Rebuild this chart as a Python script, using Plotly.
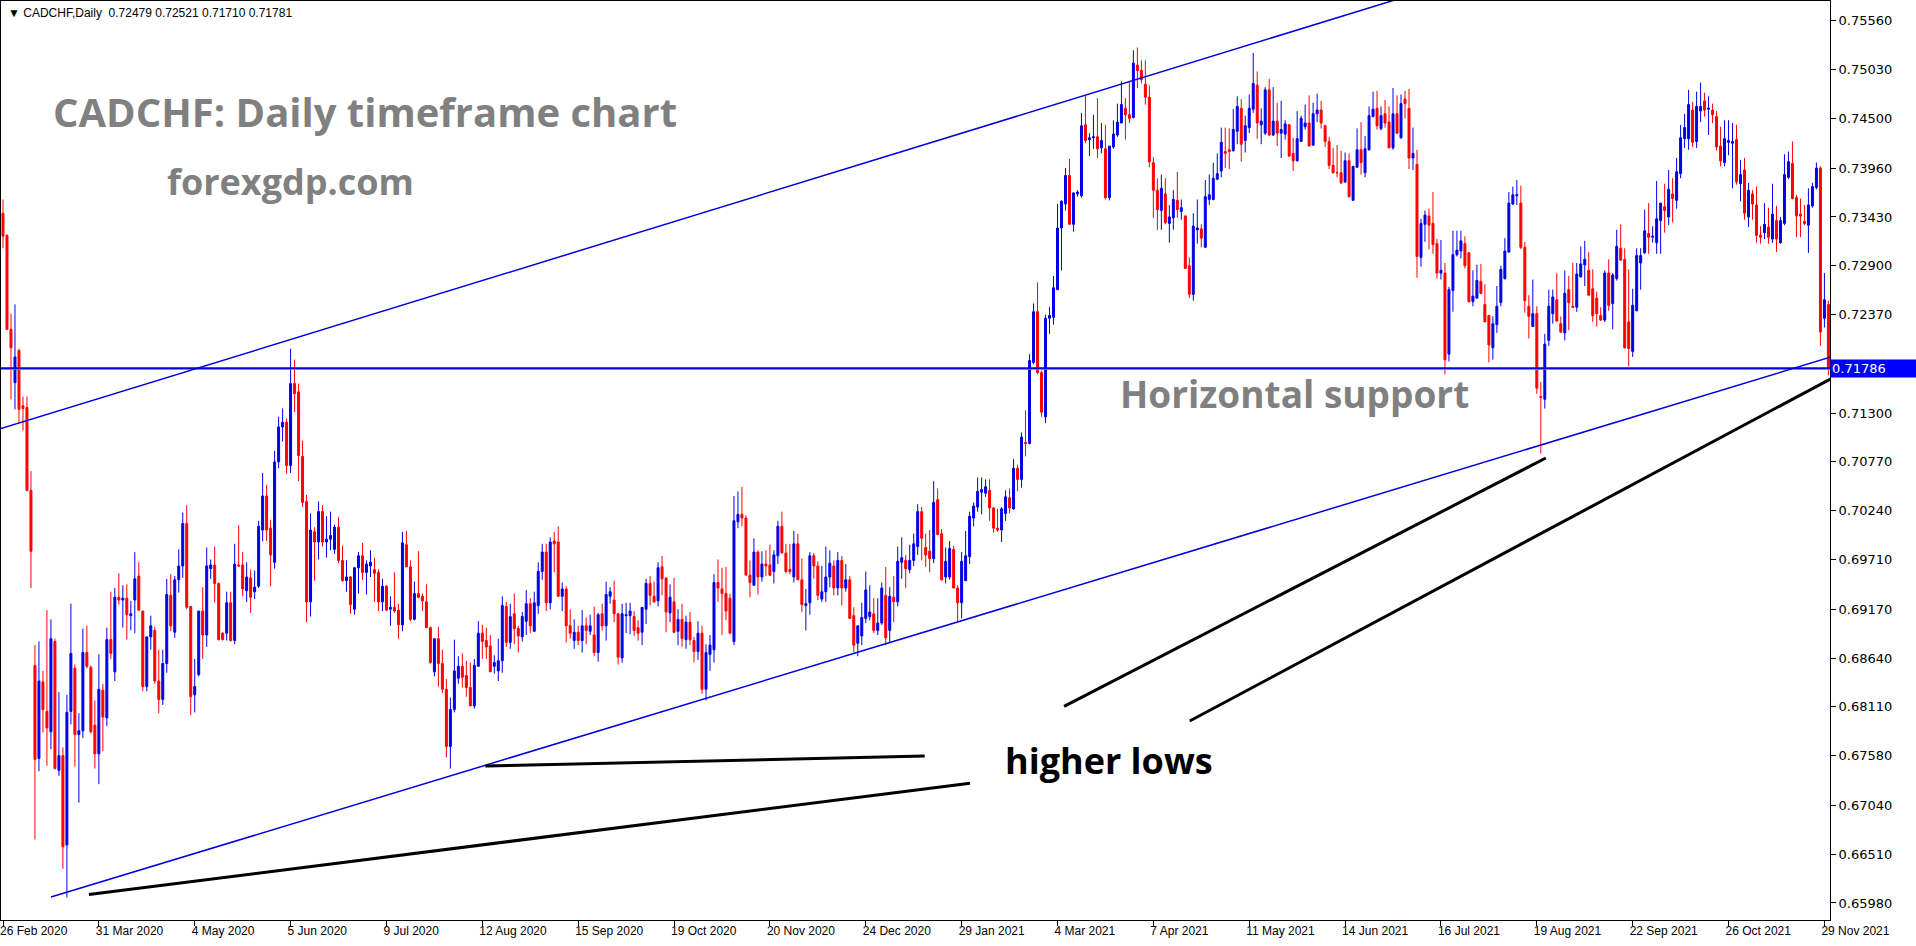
import plotly.graph_objects as go

# ---- daily candles, prices in units of 0.0001 ----
OPEN = [
    7347, 7323, 7221, 7163, 7198, 7138, 7136, 7046, 6856, 6755,
    6838, 6806, 6784, 6882, 6742, 6758, 6661, 6806, 6853, 6781,
    6785, 6870, 6854, 6791, 6760, 6829, 6799, 6884, 6849, 6930,
    6927, 6929, 6910, 6927, 6953, 6915, 6833, 6887, 6894, 6839,
    6819, 6858, 6932, 6892, 6949, 6964, 7010, 6920, 6824, 6846,
    6915, 6889, 6961, 6965, 6945, 6891, 6891, 6924, 6883, 6965,
    6965, 6937, 6951, 6936, 6942, 7003, 7040, 7005, 6968, 7077,
    7115, 7120, 7073, 7162, 7153, 7083, 7034, 6925, 7001, 6990,
    7023, 6990, 6993, 6982, 7006, 6970, 6948, 6952, 6917, 6962,
    6975, 6957, 6964, 6960, 6957, 6925, 6942, 6917, 6919, 6916,
    6900, 6987, 6963, 6906, 6934, 6931, 6925, 6897, 6849, 6885,
    6858, 6830, 6768, 6808, 6842, 6855, 6845, 6832, 6812, 6855,
    6891, 6883, 6877, 6855, 6850, 6861, 6920, 6881, 6912, 6896,
    6887, 6904, 6923, 6893, 6921, 6958, 6979, 6924, 6991, 6990,
    6931, 6939, 6899, 6883, 6892, 6883, 6899, 6893, 6889, 6870,
    6912, 6899, 6931, 6927, 6912, 6864, 6910, 6910, 6909, 6897,
    6892, 6917, 6945, 6931, 6926, 6963, 6951, 6913, 6925, 6893,
    6906, 6884, 6903, 6883, 6871, 6891, 6830, 6868, 6873, 6946,
    6939, 6934, 6929, 6882, 7012, 7020, 7016, 6954, 6943, 6979,
    6952, 6966, 6965, 6958, 6975, 7007, 6978, 6960, 6952, 6988,
    6949, 6921, 6924, 6975, 6964, 6928, 6936, 6952, 6964, 6940,
    6970, 6940, 6949, 6910, 6880, 6888, 6907, 6909, 6912, 6894,
    6902, 6932, 6894, 6930, 6925, 6968, 6970, 6960, 6970, 6985,
    7023, 6984, 6980, 6972, 7036, 6999, 6952, 6952, 6982, 6940,
    6924, 6948, 6974, 7016, 7028, 7044, 7043, 7046, 7027, 7005,
    7003, 7021, 7038, 7026, 7070, 7058, 7098, 7097, 7185, 7240,
    7174, 7126, 7233, 7234, 7264, 7331, 7357, 7388, 7335, 7368,
    7366, 7443, 7427, 7429, 7430, 7418, 7417, 7364, 7419, 7432,
    7445, 7461, 7454, 7451, 7508, 7502, 7487, 7473, 7402, 7372,
    7350, 7368, 7336, 7342, 7361, 7349, 7344, 7290, 7259, 7329,
    7330, 7310, 7362, 7362, 7384, 7393, 7414, 7416, 7415, 7436,
    7461, 7426, 7440, 7460, 7486, 7443, 7434, 7481, 7432, 7447,
    7434, 7433, 7443, 7412, 7404, 7425, 7441, 7445, 7421, 7455,
    7459, 7442, 7425, 7399, 7391, 7391, 7381, 7404, 7361, 7397,
    7416, 7391, 7416, 7452, 7461, 7439, 7455, 7446, 7418, 7455,
    7429, 7471, 7461, 7407, 7400, 7299, 7335, 7344, 7336, 7314,
    7282, 7282, 7194, 7263, 7302, 7306, 7314, 7304, 7251, 7255,
    7273, 7248, 7236, 7201, 7226, 7250, 7276, 7305, 7357, 7366,
    7358, 7310, 7246, 7224, 7238, 7148, 7145, 7209, 7238, 7253,
    7227, 7217, 7264, 7246, 7245, 7278, 7291, 7285, 7265, 7255,
    7236, 7231, 7282, 7249, 7276, 7309, 7297, 7229, 7197, 7241,
    7293, 7304, 7325, 7321, 7315, 7339, 7354, 7343, 7368, 7361,
    7390, 7428, 7428, 7459, 7425, 7458, 7469, 7460, 7459, 7452,
    7420, 7402, 7424, 7423, 7427, 7379, 7394, 7343, 7368, 7356,
    7323, 7326, 7332, 7319, 7339, 7315, 7336, 7386, 7401, 7364,
    7346, 7338, 7334, 7355, 7375, 7396, 7233, 7247.9,
]
HIGH = [
    7362, 7324, 7238, 7248, 7200, 7148, 7148, 7067, 6878, 6882,
    6850, 6916, 6906, 6885, 6827, 6767, 6824, 6923, 6857, 6804,
    6896, 6899, 6856, 6818, 6868, 6836, 6897, 6936, 6940, 6956,
    6943, 6944, 6926, 6979, 6968, 6915, 6887, 6910, 6898, 6873,
    6873, 6950, 6955, 6953, 6982, 7022, 7030, 6920, 6863, 6915,
    6941, 6984, 6971, 6985, 6946, 6892, 6936, 6936, 6988, 7008,
    6979, 6968, 6960, 6959, 7013, 7065, 7052, 7014, 7089, 7126,
    7135, 7124, 7200, 7188, 7162, 7100, 7041, 7021, 7006, 7034,
    7030, 7018, 7023, 7009, 7017, 6986, 6970, 6953, 6963, 6979,
    6989, 6970, 6981, 6973, 6960, 6950, 6943, 6931, 6957, 6923,
    7001, 7002, 6970, 6947, 6980, 6934, 6944, 6898, 6885, 6898,
    6873, 6841, 6821, 6884, 6866, 6869, 6861, 6859, 6863, 6904,
    6900, 6897, 6889, 6867, 6885, 6931, 6925, 6923, 6934, 6899,
    6914, 6938, 6929, 6936, 6968, 6988, 6988, 6995, 7001, 7007,
    6946, 6942, 6917, 6906, 6899, 6916, 6908, 6911, 6920, 6913,
    6923, 6947, 6941, 6948, 6913, 6923, 6924, 6924, 6915, 6905,
    6919, 6950, 6953, 6947, 6968, 6975, 6951, 6944, 6951, 6917,
    6923, 6910, 6914, 6887, 6904, 6899, 6879, 6889, 6955, 6971,
    6962, 6963, 6934, 7040, 7045, 7050, 7019, 6970, 6994, 6981,
    6980, 6981, 6987, 6981, 7013, 7023, 6988, 6988, 7002, 6999,
    6972, 6939, 6979, 6978, 6969, 6964, 6985, 6981, 6970, 6979,
    6975, 6966, 6953, 6919, 6899, 6924, 6958, 6943, 6929, 6929,
    6946, 6963, 6941, 6953, 6985, 6995, 6976, 6987, 6999, 7031,
    7028, 6999, 7003, 7056, 7048, 7004, 6984, 6991, 6986, 6943,
    6979, 7002, 7023, 7033, 7060, 7060, 7058, 7058, 7028, 7026,
    7028, 7046, 7048, 7080, 7074, 7109, 7133, 7194, 7249, 7272,
    7176, 7237, 7245, 7279, 7357, 7361, 7396, 7406, 7370, 7372,
    7456, 7475, 7434, 7454, 7472, 7445, 7443, 7420, 7448, 7466,
    7490, 7472, 7490, 7524, 7527, 7513, 7513, 7486, 7408, 7385,
    7389, 7385, 7356, 7372, 7392, 7362, 7345, 7299, 7347, 7362,
    7335, 7383, 7389, 7402, 7412, 7440, 7440, 7439, 7460, 7474,
    7471, 7453, 7476, 7521, 7501, 7461, 7484, 7493, 7484, 7467,
    7469, 7448, 7444, 7429, 7458, 7453, 7465, 7475, 7467, 7477,
    7469, 7443, 7430, 7418, 7421, 7415, 7413, 7412, 7398, 7439,
    7446, 7431, 7463, 7479, 7480, 7463, 7470, 7463, 7483, 7475,
    7476, 7480, 7482, 7440, 7416, 7341, 7350, 7352, 7370, 7319,
    7318, 7293, 7267, 7328, 7328, 7328, 7322, 7305, 7285, 7291,
    7292, 7270, 7236, 7235, 7268, 7290, 7320, 7370, 7376, 7383,
    7377, 7316, 7258, 7275, 7246, 7164, 7216, 7264, 7264, 7282,
    7235, 7285, 7279, 7293, 7293, 7311, 7317, 7305, 7286, 7262,
    7245, 7285, 7297, 7282, 7329, 7335, 7309, 7286, 7265, 7309,
    7309, 7351, 7358, 7333, 7382, 7358, 7379, 7394, 7385, 7407,
    7443, 7455, 7481, 7468, 7479, 7489, 7478, 7474, 7466, 7458,
    7441, 7448, 7448, 7445, 7443, 7405, 7407, 7380, 7372, 7376,
    7333, 7358, 7353, 7379, 7355, 7343, 7411, 7414, 7425, 7367,
    7363, 7356, 7374, 7380, 7402, 7398, 7282, 7252.1,
]
LOW = [
    7309, 7220, 7145, 7134, 7119, 7111, 7045, 6940, 6667, 6741,
    6783, 6747, 6765, 6743, 6736, 6635, 6604, 6792, 6746, 6707,
    6777, 6853, 6782, 6744, 6727, 6763, 6790, 6863, 6839, 6922,
    6897, 6884, 6894, 6891, 6915, 6828, 6828, 6873, 6836, 6804,
    6813, 6848, 6893, 6886, 6935, 6951, 6917, 6802, 6805, 6844,
    6863, 6876, 6950, 6924, 6883, 6883, 6883, 6882, 6879, 6963,
    6931, 6925, 6913, 6928, 6940, 6991, 6991, 6942, 6961, 7070,
    7099, 7064, 7065, 7131, 7056, 7028, 6903, 6909, 6948, 6971,
    6985, 6973, 6981, 6977, 6967, 6947, 6936, 6912, 6911, 6934,
    6949, 6933, 6952, 6925, 6915, 6915, 6915, 6899, 6913, 6885,
    6893, 6963, 6904, 6905, 6929, 6915, 6897, 6858, 6844, 6833,
    6826, 6756, 6744, 6805, 6836, 6832, 6822, 6812, 6809, 6855,
    6863, 6863, 6849, 6847, 6839, 6848, 6876, 6874, 6879, 6870,
    6882, 6889, 6891, 6893, 6912, 6949, 6915, 6917, 6957, 6931,
    6915, 6881, 6885, 6874, 6878, 6870, 6879, 6889, 6866, 6860,
    6894, 6883, 6923, 6903, 6857, 6859, 6891, 6890, 6888, 6883,
    6878, 6901, 6921, 6924, 6920, 6932, 6892, 6903, 6891, 6878,
    6876, 6874, 6878, 6859, 6862, 6825, 6818, 6850, 6859, 6925,
    6889, 6905, 6890, 6878, 7005, 7007, 6954, 6930, 6943, 6933,
    6947, 6953, 6953, 6945, 6966, 6978, 6956, 6955, 6946, 6949,
    6914, 6894, 6911, 6950, 6927, 6925, 6925, 6941, 6932, 6932,
    6921, 6936, 6907, 6870, 6866, 6878, 6902, 6905, 6891, 6889,
    6900, 6878, 6880, 6903, 6920, 6950, 6940, 6956, 6964, 6976,
    6970, 6963, 6957, 6967, 6998, 6948, 6945, 6949, 6940, 6903,
    6907, 6948, 6966, 7007, 7023, 7020, 7039, 7013, 7000, 7001,
    6990, 7013, 7021, 7025, 7045, 7049, 7083, 7096, 7183, 7172,
    7126, 7119, 7216, 7226, 7264, 7285, 7350, 7335, 7327, 7365,
    7364, 7423, 7409, 7417, 7407, 7412, 7362, 7361, 7417, 7430,
    7445, 7427, 7445, 7450, 7483, 7488, 7465, 7397, 7342, 7329,
    7329, 7335, 7315, 7329, 7342, 7340, 7287, 7255, 7252, 7314,
    7310, 7310, 7356, 7361, 7383, 7386, 7396, 7395, 7414, 7422,
    7403, 7413, 7434, 7456, 7428, 7422, 7432, 7431, 7431, 7420,
    7407, 7427, 7409, 7393, 7403, 7425, 7438, 7420, 7420, 7446,
    7439, 7419, 7395, 7390, 7386, 7379, 7380, 7364, 7361, 7396,
    7389, 7386, 7415, 7451, 7438, 7437, 7440, 7418, 7416, 7433,
    7428, 7450, 7395, 7394, 7277, 7289, 7316, 7308, 7303, 7276,
    7275, 7172, 7186, 7240, 7300, 7298, 7287, 7250, 7246, 7254,
    7259, 7229, 7185, 7188, 7217, 7246, 7275, 7304, 7356, 7356,
    7308, 7239, 7211, 7224, 7151, 7086, 7135, 7203, 7227, 7229,
    7217, 7209, 7220, 7244, 7240, 7277, 7268, 7258, 7229, 7224,
    7230, 7229, 7241, 7221, 7274, 7296, 7200, 7181, 7191, 7241,
    7264, 7303, 7303, 7315, 7303, 7303, 7326, 7334, 7337, 7352,
    7385, 7418, 7416, 7419, 7418, 7446, 7452, 7432, 7445, 7415,
    7398, 7398, 7410, 7374, 7378, 7360, 7340, 7332, 7340, 7315,
    7314, 7319, 7314, 7315, 7305, 7314, 7334, 7384, 7362, 7321,
    7321, 7334, 7304, 7353, 7373, 7203, 7223, 7171.0,
]
CLOSE = [
    7322, 7221, 7201, 7191, 7134, 7135, 7046, 6980, 6754, 6839,
    6808, 6788, 6885, 6744, 6758, 6659, 6805, 6869, 6781, 6785,
    6870, 6855, 6784, 6760, 6830, 6800, 6884, 6869, 6930, 6927,
    6929, 6911, 6912, 6950, 6916, 6833, 6887, 6899, 6839, 6819,
    6858, 6933, 6899, 6949, 6964, 7010, 6919, 6822, 6833, 6915,
    6889, 6964, 6965, 6945, 6884, 6884, 6924, 6883, 6966, 6964,
    6939, 6952, 6930, 6941, 7007, 7040, 7003, 6976, 7077, 7115,
    7120, 7073, 7162, 7151, 7084, 7033, 6925, 7003, 6990, 7023,
    6990, 6993, 6997, 7006, 6970, 6948, 6952, 6922, 6962, 6975,
    6957, 6966, 6968, 6956, 6925, 6942, 6916, 6919, 6915, 6900,
    6989, 6963, 6906, 6934, 6930, 6926, 6897, 6859, 6885, 6858,
    6830, 6768, 6808, 6850, 6855, 6843, 6832, 6812, 6856, 6891,
    6882, 6876, 6849, 6859, 6861, 6921, 6881, 6909, 6896, 6888,
    6909, 6923, 6899, 6924, 6958, 6979, 6924, 6990, 6988, 6931,
    6939, 6899, 6891, 6892, 6883, 6899, 6894, 6899, 6870, 6911,
    6899, 6933, 6936, 6912, 6865, 6912, 6911, 6915, 6894, 6891,
    6919, 6945, 6932, 6925, 6962, 6950, 6914, 6930, 6892, 6906,
    6885, 6903, 6884, 6871, 6891, 6830, 6870, 6878, 6946, 6940,
    6934, 6915, 6891, 7013, 7020, 7016, 6954, 6946, 6979, 6952,
    6966, 6964, 6954, 6976, 7007, 6978, 6958, 6958, 6988, 6949,
    6922, 6923, 6975, 6964, 6932, 6936, 6952, 6967, 6940, 6970,
    6940, 6949, 6907, 6878, 6899, 6908, 6938, 6914, 6894, 6902,
    6940, 6886, 6931, 6925, 6969, 6973, 6961, 6970, 6988, 7023,
    6994, 6976, 6972, 7033, 6998, 6949, 6969, 6983, 6940, 6924,
    6969, 6975, 7018, 7029, 7045, 7047, 7050, 7027, 7005, 7003,
    7026, 7039, 7027, 7070, 7058, 7104, 7097, 7187, 7240, 7174,
    7131, 7233, 7236, 7266, 7331, 7360, 7388, 7335, 7369, 7370,
    7442, 7426, 7429, 7430, 7417, 7426, 7364, 7420, 7433, 7446,
    7465, 7454, 7450, 7510, 7502, 7492, 7473, 7403, 7372, 7351,
    7374, 7337, 7343, 7362, 7351, 7353, 7287, 7259, 7333, 7331,
    7320, 7365, 7367, 7385, 7390, 7424, 7412, 7414, 7438, 7463,
    7422, 7442, 7461, 7488, 7445, 7447, 7481, 7432, 7447, 7434,
    7438, 7444, 7409, 7404, 7428, 7450, 7445, 7420, 7455, 7459,
    7445, 7425, 7399, 7391, 7391, 7380, 7404, 7365, 7398, 7416,
    7402, 7417, 7453, 7460, 7442, 7453, 7445, 7418, 7455, 7434,
    7466, 7466, 7407, 7412, 7300, 7336, 7345, 7334, 7313, 7282,
    7285, 7188, 7264, 7302, 7307, 7317, 7290, 7251, 7257, 7274,
    7260, 7229, 7204, 7227, 7246, 7286, 7306, 7358, 7367, 7367,
    7310, 7252, 7235, 7238, 7157, 7147, 7205, 7246, 7256, 7230,
    7218, 7260, 7250, 7245, 7281, 7292, 7297, 7258, 7236, 7238,
    7231, 7282, 7247, 7280, 7311, 7296, 7201, 7200, 7247, 7301,
    7301, 7328, 7321, 7322, 7341, 7358, 7350, 7373, 7363, 7392,
    7429, 7440, 7465, 7424, 7463, 7463, 7459, 7461, 7454, 7419,
    7404, 7428, 7426, 7425, 7381, 7389, 7347, 7372, 7357, 7323,
    7321, 7335, 7321, 7346, 7319, 7339, 7389, 7403, 7363, 7344,
    7344, 7336, 7356, 7376, 7396, 7218, 7253, 7178.1,
]
PIP = 0.0001

# date labels on the time scale (every 24th bar)
DATE_LABELS = ["26 Feb 2020", "31 Mar 2020", "4 May 2020", "5 Jun 2020", "9 Jul 2020",
               "12 Aug 2020", "15 Sep 2020", "19 Oct 2020", "20 Nov 2020", "24 Dec 2020",
               "29 Jan 2021", "4 Mar 2021", "7 Apr 2021", "11 May 2021", "14 Jun 2021",
               "16 Jul 2021", "19 Aug 2021", "22 Sep 2021", "26 Oct 2021", "29 Nov 2021"]
DATE_BARS = [0, 24, 48, 72, 96, 120, 144, 168, 192, 216,
             240, 264, 288, 312, 336, 360, 384, 408, 432, 456]

PRICE_TICKS = [0.75560, 0.75030, 0.74500, 0.73960, 0.73430, 0.72900, 0.72370, 0.71830,
               0.71300, 0.70770, 0.70240, 0.69710, 0.69170, 0.68640, 0.68110, 0.67580,
               0.67040, 0.66510, 0.65980]

SUPPORT_LEVEL = 0.71786
BID_LEVEL = 0.71781

# drawn objects: (bar index anchors, price anchors)
UPPER_CHANNEL = ([-1, 360], [0.71125, 0.75940])
LOWER_CHANNEL = ([12, 460], [0.66044, 0.71940])
HIGHER_LOW_LINES = [
    ([21.5, 242.1], [0.66072, 0.67279]),
    ([120.75, 230.75], [0.67467, 0.67576]),
    ([265.65, 386.25], [0.68115, 0.70812]),
    ([297.1, 457.5], [0.67956, 0.71670]),
]

BLUE = "#0000e6"
RED = "#ff0000"
LINE_BLUE = "#0000dd"
GREY_TEXT = "#808080"

n = len(OPEN)
bars = list(range(n))
o = [v * PIP for v in OPEN]
h = [v * PIP for v in HIGH]
l = [v * PIP for v in LOW]
c = [v * PIP for v in CLOSE]

fig = go.Figure()
fig.add_trace(go.Candlestick(
    x=bars, open=o, high=h, low=l, close=c,
    increasing=dict(line=dict(color=BLUE, width=1), fillcolor=BLUE),
    decreasing=dict(line=dict(color=RED, width=1), fillcolor=RED),
    whiskerwidth=0, showlegend=False, hoverinfo="skip",
))

# bid line + horizontal support line
fig.add_trace(go.Scatter(x=[-2, 470], y=[BID_LEVEL - 0.00006, BID_LEVEL - 0.00006], mode="lines",
                         line=dict(color="#a0a0b4", width=1), showlegend=False, hoverinfo="skip"))
fig.add_trace(go.Scatter(x=[-2, 470], y=[SUPPORT_LEVEL, SUPPORT_LEVEL], mode="lines",
                         line=dict(color=LINE_BLUE, width=2), showlegend=False, hoverinfo="skip"))
# channel lines
for xs, ys in (UPPER_CHANNEL, LOWER_CHANNEL):
    fig.add_trace(go.Scatter(x=xs, y=ys, mode="lines", line=dict(color=LINE_BLUE, width=1.5),
                             showlegend=False, hoverinfo="skip"))
# higher-low lines
for xs, ys in HIGHER_LOW_LINES:
    fig.add_trace(go.Scatter(x=xs, y=ys, mode="lines", line=dict(color="black", width=3),
                             showlegend=False, hoverinfo="skip"))

X_FONT = dict(family="Liberation Sans", size=12, color="black")
Y_FONT = dict(family="DejaVu Sans", size=13, color="black")

fig.update_layout(
    width=1916, height=946,
    margin=dict(l=1, r=86, t=1, b=26),
    paper_bgcolor="white", plot_bgcolor="white",
    showlegend=False, hovermode=False,
    xaxis=dict(
        range=[-0.5, 457.4], rangeslider=dict(visible=False),
        tickmode="array", tickvals=DATE_BARS, ticktext=DATE_LABELS,
        ticks="outside", ticklen=5, tickcolor="black", tickwidth=1,
        ticklabelposition="outside right", ticklabelshift=-4,
        tickfont=X_FONT, showgrid=False, zeroline=False,
        showline=True, linecolor="black", linewidth=1, mirror=True,
        automargin=False, fixedrange=True,
    ),
    yaxis=dict(
        side="right", range=[0.65795, 0.75775],
        tickmode="array", tickvals=PRICE_TICKS, ticktext=[f"{v:.5f}" for v in PRICE_TICKS],
        ticks="outside", ticklen=5, tickcolor="black", tickwidth=1,
        tickfont=Y_FONT, showgrid=False, zeroline=False,
        showline=True, linecolor="black", linewidth=1, mirror=True,
        automargin=False, fixedrange=True,
    ),
)

annotations = [
    dict(text="\u25bc CADCHF,Daily  0.72479 0.72521 0.71710 0.71781",
         xref="paper", yref="paper", x=0, y=1, xanchor="left", yanchor="top",
         xshift=5, yshift=-3, showarrow=False,
         font=dict(family="Liberation Sans", size=12, color="black")),
    dict(text="<b>CADCHF: Daily timeframe chart</b>", x=12, y=0.74570, xref="x", yref="y",
         xanchor="left", yanchor="middle", showarrow=False,
         font=dict(family="Open Sans", size=40, color=GREY_TEXT)),
    dict(text="<b>forexgdp.com</b>", x=40.6, y=0.73820, xref="x", yref="y",
         xanchor="left", yanchor="middle", showarrow=False,
         font=dict(family="Open Sans", size=36, color=GREY_TEXT)),
    dict(text="<b>Horizontal support</b>", x=279.2, y=0.71518, xref="x", yref="y",
         xanchor="left", yanchor="middle", showarrow=False,
         font=dict(family="Open Sans", size=37, color=GREY_TEXT)),
    dict(text="<b>higher lows</b>", x=250.4, y=0.67532, xref="x", yref="y",
         xanchor="left", yanchor="middle", showarrow=False,
         font=dict(family="Open Sans", size=36, color="black")),
    dict(text=f"{SUPPORT_LEVEL:.5f}", xref="paper", yref="y", x=1, y=SUPPORT_LEVEL,
         xanchor="left", yanchor="middle", showarrow=False, bgcolor="#0000ff",
         width=84, align="left", borderpad=1,
         font=dict(family="DejaVu Sans", size=13, color="white")),
]
fig.update_layout(annotations=annotations)

# remove the browser's default 8px page margin so the figure sits at the window's corner
fig.write_html("out.html",
               config={"displayModeBar": False},
               post_script="document.body.style.margin='0px';document.body.style.padding='0px';")
